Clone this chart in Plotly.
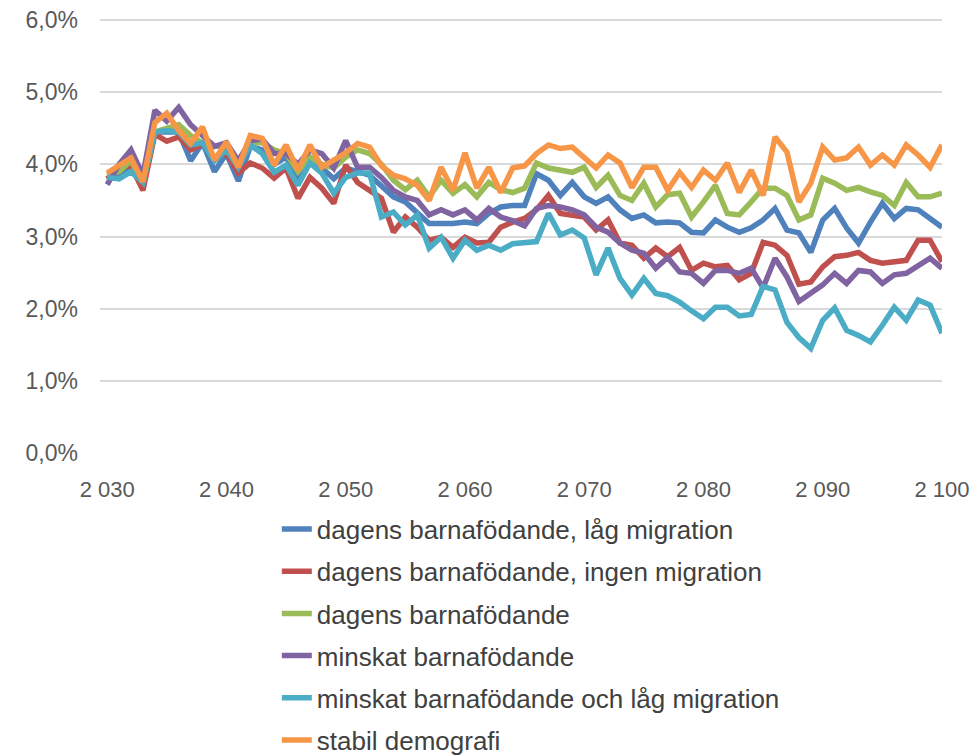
import plotly.graph_objects as go

years = list(range(2030, 2101))

blue = [3.78, 3.85, 4.00, 3.72, 4.45, 4.45, 4.45, 4.05, 4.30, 3.90,
        4.15, 3.77, 4.25, 4.20, 4.00, 4.10, 3.80, 4.10, 3.95, 3.80,
        3.95, 3.90, 3.85, 3.70, 3.55, 3.48, 3.32, 3.18, 3.18, 3.18,
        3.20, 3.18, 3.32, 3.41, 3.43, 3.43, 3.87, 3.78, 3.57, 3.75,
        3.55, 3.46, 3.55, 3.37, 3.25, 3.30, 3.19, 3.20, 3.19, 3.06,
        3.05, 3.23, 3.13, 3.06, 3.12, 3.23, 3.39, 3.09, 3.05, 2.78,
        3.23, 3.39, 3.12, 2.91, 3.20, 3.46, 3.25, 3.39, 3.37, 3.25,
        3.13]

red = [3.80, 3.95, 3.98, 3.64, 4.42, 4.32, 4.38, 4.20, 4.28, 4.10,
       4.15, 3.88, 4.02, 3.95, 3.81, 3.95, 3.53, 3.82, 3.67, 3.46,
       3.99, 3.75, 3.64, 3.53, 3.06, 3.27, 3.13, 2.95, 2.99, 2.85,
       2.99, 2.91, 2.92, 3.13, 3.20, 3.25, 3.37, 3.57, 3.32, 3.30,
       3.27, 3.09, 3.23, 2.91, 2.88, 2.70, 2.84, 2.72, 2.85, 2.53,
       2.63, 2.58, 2.60, 2.40, 2.49, 2.92, 2.88, 2.74, 2.34, 2.37,
       2.58, 2.72, 2.74, 2.78, 2.67, 2.63, 2.65, 2.67, 2.95, 2.95,
       2.65]

green = [3.85, 3.90, 4.05, 3.75, 4.45, 4.50, 4.55, 4.40, 4.30, 4.25,
         4.25, 4.05, 4.30, 4.30, 4.20, 4.15, 3.90, 4.10, 4.00, 3.95,
         4.10, 4.20, 4.15, 4.00, 3.78, 3.65, 3.78, 3.55, 3.78, 3.60,
         3.72, 3.55, 3.75, 3.65, 3.61, 3.67, 4.02, 3.95, 3.92, 3.89,
         3.96, 3.68, 3.85, 3.57, 3.50, 3.74, 3.41, 3.58, 3.60, 3.27,
         3.48, 3.71, 3.32, 3.30, 3.48, 3.67, 3.67, 3.57, 3.23, 3.30,
         3.81, 3.74, 3.64, 3.68, 3.62, 3.57, 3.43, 3.75, 3.55, 3.55,
         3.60]

purple = [3.72, 4.00, 4.20, 3.85, 4.75, 4.60, 4.79, 4.55, 4.40, 4.25,
          4.30, 4.05, 4.33, 4.35, 4.15, 4.15, 4.00, 4.20, 4.15, 3.95,
          4.33, 3.96, 3.96, 3.82, 3.64, 3.55, 3.50, 3.30, 3.37, 3.30,
          3.37, 3.23, 3.39, 3.27, 3.22, 3.15, 3.39, 3.43, 3.41, 3.37,
          3.30, 3.13, 3.06, 2.91, 2.81, 2.77, 2.56, 2.71, 2.51, 2.49,
          2.35, 2.53, 2.53, 2.49, 2.56, 2.29, 2.70, 2.44, 2.10, 2.22,
          2.33, 2.49, 2.35, 2.53, 2.51, 2.35, 2.47, 2.49, 2.60, 2.70,
          2.56]

teal = [3.82, 3.80, 3.90, 3.75, 4.45, 4.47, 4.45, 4.27, 4.30, 4.05,
        4.20, 3.96, 4.27, 4.15, 3.89, 3.99, 3.71, 4.02, 3.88, 3.60,
        3.82, 3.88, 3.88, 3.27, 3.34, 3.16, 3.30, 2.84, 2.99, 2.70,
        2.95, 2.81, 2.88, 2.81, 2.90, 2.92, 2.93, 3.32, 3.02, 3.09,
        2.98, 2.47, 2.84, 2.42, 2.19, 2.42, 2.21, 2.18, 2.09, 1.97,
        1.86, 2.02, 2.02, 1.90, 1.92, 2.31, 2.26, 1.81, 1.60, 1.45,
        1.84, 2.01, 1.70, 1.63, 1.54, 1.77, 2.02, 1.84, 2.12, 2.05,
        1.66]

orange = [3.88, 3.98, 4.09, 3.76, 4.58, 4.71, 4.47, 4.29, 4.52, 4.06,
          4.31, 3.96, 4.40, 4.36, 3.99, 4.27, 3.92, 4.27, 3.96, 4.06,
          4.16, 4.29, 4.24, 3.98, 3.85, 3.80, 3.71, 3.50, 3.96, 3.64,
          4.16, 3.67, 3.96, 3.61, 3.95, 3.98, 4.15, 4.27, 4.22, 4.24,
          4.10, 3.95, 4.13, 4.02, 3.68, 3.96, 3.96, 3.64, 3.89, 3.68,
          3.92, 3.78, 4.02, 3.61, 3.92, 3.57, 4.38, 4.17, 3.48, 3.74,
          4.24, 4.06, 4.09, 4.24, 3.99, 4.13, 3.99, 4.27, 4.13, 3.96,
          4.27]

series = [
    ("dagens barnafödande, låg migration", blue, "#4F81BD"),
    ("dagens barnafödande, ingen migration", red, "#C0504D"),
    ("dagens barnafödande", green, "#9BBB59"),
    ("minskat barnafödande", purple, "#8064A2"),
    ("minskat barnafödande och låg migration", teal, "#4BACC6"),
    ("stabil demografi", orange, "#F79646"),
]

x_ticks = [2030, 2040, 2050, 2060, 2070, 2080, 2090, 2100]
x_tick_text = ["2 030", "2 040", "2 050", "2 060", "2 070", "2 080", "2 090", "2 100"]
y_ticks = [0, 1, 2, 3, 4, 5, 6]
y_tick_text = ["0,0%", "1,0%", "2,0%", "3,0%", "4,0%", "5,0%", "6,0%"]

fig = go.Figure()
for i, (name, vals, color) in enumerate(series):
    fig.add_trace(go.Scatter(
        x=years, y=vals, mode="lines", name=name,
        legendgroup=f"g{i}",
        line=dict(color=color, width=5.5),
    ))

font_family = "Liberation Sans, Arial, sans-serif"

fig.update_layout(
    width=974, height=756,
    margin=dict(l=100, r=32, t=19, b=303, autoexpand=False),
    paper_bgcolor="white", plot_bgcolor="white",
    font=dict(family=font_family, size=23, color="#595959"),
    xaxis=dict(
        range=[2029.4, 2100], tickmode="array", tickvals=x_ticks,
        ticktext=x_tick_text, showgrid=False, zeroline=False,
        showline=False, ticks="", ticklabelstandoff=21,
        tickfont=dict(size=22, color="#595959"),
    ),
    yaxis=dict(
        range=[0, 6.015], tickmode="array", tickvals=y_ticks,
        ticktext=y_tick_text, showgrid=True, gridcolor="#D9D9D9",
        gridwidth=2, zeroline=False, showline=False, ticks="",
        ticklabelstandoff=21,
        tickfont=dict(size=23, color="#595959"),
    ),
    showlegend=True,
    legend=dict(
        orientation="v", x=0.210, xanchor="left",
        yref="container", y=0.3312, yanchor="top",
        font=dict(size=26, color="#404040"), tracegroupgap=5.4,
        bgcolor="rgba(0,0,0,0)",
    ),
)

fig.write_html(
    "out.html",
    config={"displayModeBar": False},
    post_script="document.body.style.margin='0';document.body.style.overflow='hidden';",
)
